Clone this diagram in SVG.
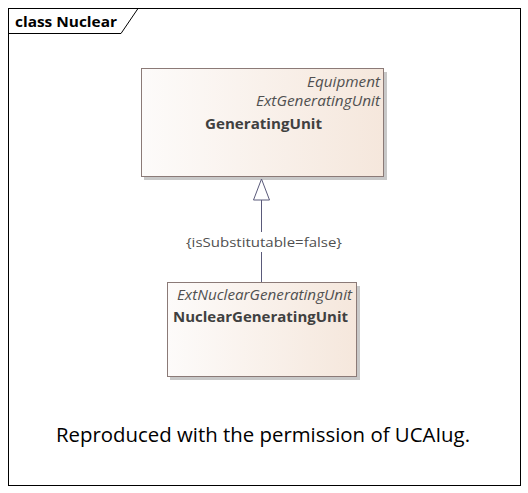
<svg xmlns="http://www.w3.org/2000/svg" width="528" height="493" viewBox="0 0 528 493">
<style>
.frame{fill:#fff;stroke:#000;stroke-width:1}
.box{fill:url(#g);stroke:#8b7a77;stroke-width:1}
.shadow{fill:#c8c8c8}
.it{font-family:"Open Sans","DejaVu Sans",sans-serif;font-style:italic;font-size:14px;fill:#505050}
.bd{font-family:"Open Sans","DejaVu Sans",sans-serif;font-weight:bold;font-size:14.5px;fill:#404040}
.lbl{font-family:"Open Sans","DejaVu Sans",sans-serif;font-size:13.5px;fill:#505050}
.conn{stroke:#5a5a7a;stroke-width:1;fill:none}
</style>
<defs>
<linearGradient id="g" x1="0" y1="0" x2="1" y2="0">
<stop offset="0" stop-color="#fdfbfa"/>
<stop offset="1" stop-color="#f5e7dc"/>
</linearGradient>
</defs>
<rect x="0" y="0" width="528" height="493" fill="#fff"/>
<g id="frame">
<rect class="frame" x="8.5" y="8.5" width="512" height="477"/>
<path d="M8.5 33.5 H121 L138 8.5" fill="none" stroke="#000"/>
<text x="15" y="26.5" font-family="Open Sans,DejaVu Sans,sans-serif" font-weight="bold" font-size="14.5" fill="#000" textLength="102" lengthAdjust="spacingAndGlyphs">class Nuclear</text>
</g>
<g id="GeneratingUnit">
<rect class="shadow" x="144" y="72" width="243" height="108"/>
<rect class="box" x="141.5" y="68.5" width="242" height="108"/>
<text class="it" x="307" y="86.5" textLength="73" lengthAdjust="spacingAndGlyphs">Equipment</text>
<text class="it" x="256" y="105.5" textLength="124" lengthAdjust="spacingAndGlyphs">ExtGeneratingUnit</text>
<text class="bd" x="205" y="129" textLength="117" lengthAdjust="spacingAndGlyphs">GeneratingUnit</text>
</g>
<g id="NuclearGeneratingUnit">
<rect class="shadow" x="170" y="286" width="190" height="94"/>
<rect class="box" x="167.5" y="282.5" width="189" height="94"/>
<text class="it" x="177" y="300" textLength="175" lengthAdjust="spacingAndGlyphs">ExtNuclearGeneratingUnit</text>
<text class="bd" x="173" y="322" textLength="175" lengthAdjust="spacingAndGlyphs">NuclearGeneratingUnit</text>
</g>
<g id="connectors">
<line class="conn" x1="261.5" y1="200" x2="261.5" y2="232"/>
<line class="conn" x1="261.5" y1="252" x2="261.5" y2="282"/>
<polygon points="261.5,179 253.5,200 269.5,200" fill="#fff" stroke="#5a5a7a"/>
<text class="lbl" x="186" y="247" textLength="156" lengthAdjust="spacingAndGlyphs">{isSubstitutable=false}</text>
</g>
<text x="56" y="442" font-family="Open Sans,DejaVu Sans,sans-serif" font-size="20" fill="#000" textLength="414" lengthAdjust="spacingAndGlyphs">Reproduced with the permission of UCAIug.</text>
</svg>
